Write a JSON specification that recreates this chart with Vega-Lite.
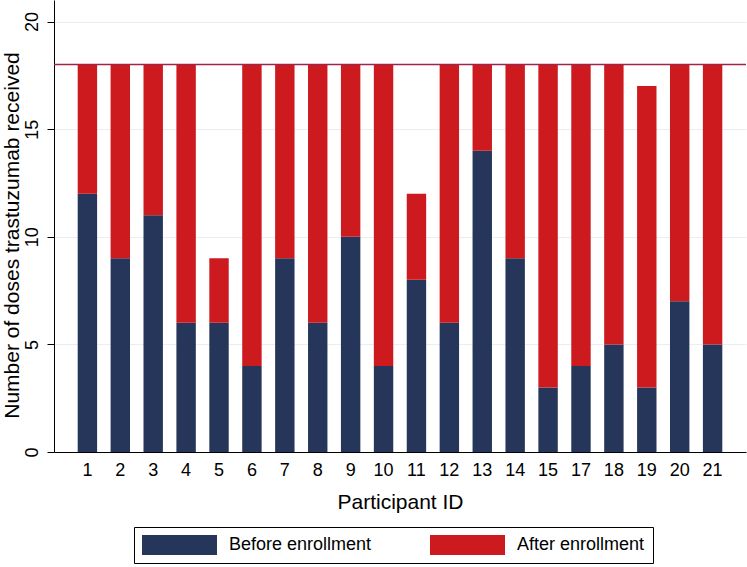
{
  "$schema": "https://vega.github.io/schema/vega-lite/v6.json",
  "width": 692,
  "height": 452,
  "autosize": "none",
  "padding": {"left": 54, "top": 0, "right": 1, "bottom": 115},
  "background": "white",
  "config": {
    "font": "Liberation Sans",
    "view": {"stroke": null},
    "axis": {"labelColor": "black", "titleColor": "black", "titleFontWeight": "normal", "domainColor": "black", "domainWidth": 1}
  },
  "layer": [
    {
      "data": {
        "values": [
          {"id": 1, "period": "Before enrollment", "doses": 12}, {"id": 1, "period": "After enrollment", "doses": 6},
          {"id": 2, "period": "Before enrollment", "doses": 9}, {"id": 2, "period": "After enrollment", "doses": 9},
          {"id": 3, "period": "Before enrollment", "doses": 11}, {"id": 3, "period": "After enrollment", "doses": 7},
          {"id": 4, "period": "Before enrollment", "doses": 6}, {"id": 4, "period": "After enrollment", "doses": 12},
          {"id": 5, "period": "Before enrollment", "doses": 6}, {"id": 5, "period": "After enrollment", "doses": 3},
          {"id": 6, "period": "Before enrollment", "doses": 4}, {"id": 6, "period": "After enrollment", "doses": 14},
          {"id": 7, "period": "Before enrollment", "doses": 9}, {"id": 7, "period": "After enrollment", "doses": 9},
          {"id": 8, "period": "Before enrollment", "doses": 6}, {"id": 8, "period": "After enrollment", "doses": 12},
          {"id": 9, "period": "Before enrollment", "doses": 10}, {"id": 9, "period": "After enrollment", "doses": 8},
          {"id": 10, "period": "Before enrollment", "doses": 4}, {"id": 10, "period": "After enrollment", "doses": 14},
          {"id": 11, "period": "Before enrollment", "doses": 8}, {"id": 11, "period": "After enrollment", "doses": 4},
          {"id": 12, "period": "Before enrollment", "doses": 6}, {"id": 12, "period": "After enrollment", "doses": 12},
          {"id": 13, "period": "Before enrollment", "doses": 14}, {"id": 13, "period": "After enrollment", "doses": 4},
          {"id": 14, "period": "Before enrollment", "doses": 9}, {"id": 14, "period": "After enrollment", "doses": 9},
          {"id": 15, "period": "Before enrollment", "doses": 3}, {"id": 15, "period": "After enrollment", "doses": 15},
          {"id": 17, "period": "Before enrollment", "doses": 4}, {"id": 17, "period": "After enrollment", "doses": 14},
          {"id": 18, "period": "Before enrollment", "doses": 5}, {"id": 18, "period": "After enrollment", "doses": 13},
          {"id": 19, "period": "Before enrollment", "doses": 3}, {"id": 19, "period": "After enrollment", "doses": 14},
          {"id": 20, "period": "Before enrollment", "doses": 7}, {"id": 20, "period": "After enrollment", "doses": 11},
          {"id": 21, "period": "Before enrollment", "doses": 5}, {"id": 21, "period": "After enrollment", "doses": 13}
        ]
      },
      "mark": {"type": "bar"},
      "encoding": {
        "x": {
          "field": "id", "type": "ordinal", "sort": "ascending",
          "scale": {"paddingInner": 0.41, "paddingOuter": 0.72},
          "axis": {
            "title": "Participant ID", "titleFontSize": 21, "titleBaseline": "alphabetic", "titleY": 56,
            "labelAngle": 0, "labelFontSize": 18, "labelBaseline": "alphabetic", "labelPadding": 23,
            "ticks": true, "tickSize": 0, "grid": false
          }
        },
        "y": {
          "field": "doses", "type": "quantitative", "stack": "zero",
          "scale": {"domain": [0, 21], "nice": false, "zero": true},
          "axis": {
            "title": "Number of doses trastuzumab received", "titleFontSize": 21,
            "titleAngle": -90, "titleAlign": "center", "titleBaseline": "middle", "titleX": -42, "titleY": 235,
            "values": [0, 5, 10, 15, 20], "labelAngle": -90, "labelAlign": "center", "labelBaseline": "alphabetic",
            "labelFontSize": 18, "labelPadding": 10, "tickSize": 7, "tickColor": "black",
            "grid": true, "gridColor": "#e8eff2", "gridWidth": 1
          }
        },
        "color": {
          "field": "period", "type": "nominal",
          "scale": {"domain": ["Before enrollment", "After enrollment"], "range": ["#26365a", "#cc1a1f"]},
          "legend": {
            "title": null, "orient": "none", "legendX": 80, "legendY": 527, "direction": "horizontal", "columns": 2,
            "gridAlign": "all", "columnPadding": 58, "padding": 8, "strokeColor": "black", "fillColor": "white",
            "symbolType": "M-1,-1H6.5V1H-1Z", "symbolSize": 400, "symbolStrokeWidth": 0, "symbolOpacity": 1,
            "labelFontSize": 18, "labelColor": "black", "labelOffset": 67, "labelLimit": 400
          }
        },
        "order": {"field": "period", "sort": "descending"}
      }
    },
    {
      "data": {"values": [{"ref": 18}]},
      "mark": {"type": "rule", "color": "#a3224a", "strokeWidth": 1.5},
      "encoding": {
        "y": {"field": "ref", "type": "quantitative", "title": "Number of doses trastuzumab received", "scale": {"domain": [0, 21], "nice": false}}
      }
    }
  ]
}
